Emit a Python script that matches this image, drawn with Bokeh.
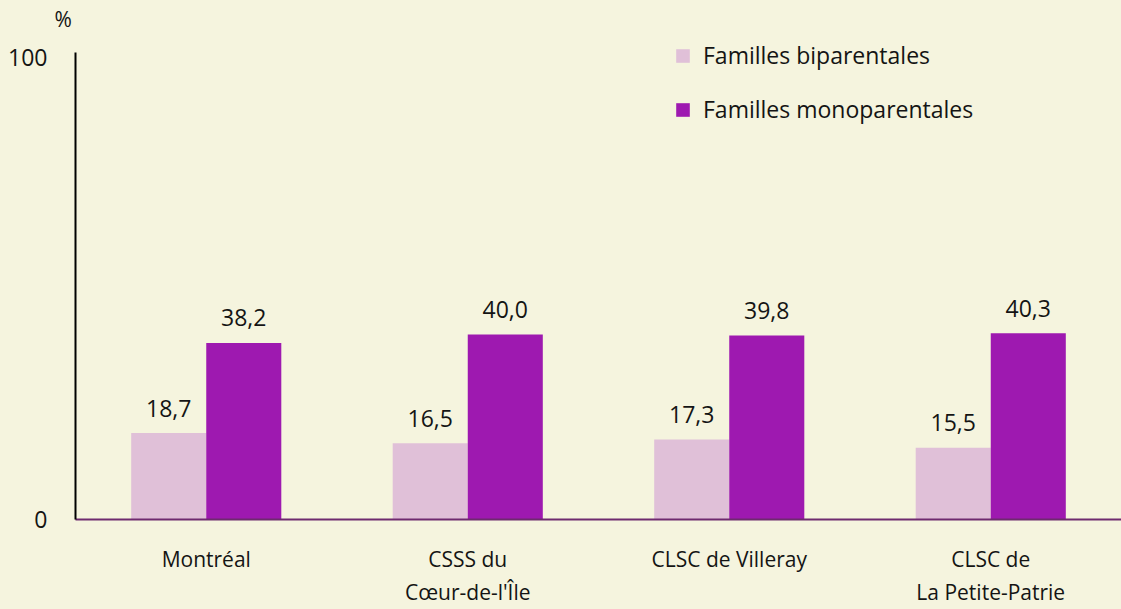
from bokeh.plotting import figure
from bokeh.models import (ColumnDataSource, FactorRange, Range1d, FixedTicker, Legend,
                          LegendItem)
from bokeh.transform import dodge
from bokeh.core.properties import value
from bokeh.embed import file_html
from bokeh.resources import INLINE

categories = ["Montréal", "CSSS du\nCœur-de-l'Île", "CLSC de Villeray", "CLSC de\nLa Petite-Patrie"]
biparentales = [18.7, 16.5, 17.3, 15.5]
monoparentales = [38.2, 40.0, 39.8, 40.3]
series_names = ["Familles biparentales", "Familles monoparentales"]
y_ticks = [0, 100]
unit_label = "%"

BG = "#F5F4DE"
C_LIGHT = "#E0C0D8"
C_DARK = "#9E19B0"
FONT = "Open Sans"
FS = "23px"
TXT = "#141414"

def fmt(v):
    return f"{v:.1f}".replace(".", ",")

src = ColumnDataSource(dict(
    cat=categories,
    bi=biparentales,
    mono=monoparentales,
    bi_lbl=[fmt(v) for v in biparentales],
    mono_lbl=[fmt(v) for v in monoparentales],
))

p = figure(width=1121, height=609, output_backend="svg", toolbar_location=None,
           x_range=FactorRange(factors=categories, range_padding=0),
           y_range=Range1d(0, 104.9),
           min_border_left=75, min_border_right=0, min_border_top=34, min_border_bottom=88,
           title=unit_label)
p.background_fill_color = BG
p.border_fill_color = BG
p.outline_line_color = None
p.grid.visible = False

p.title.align = "left"
p.title.offset = -21
p.title.text_font = FONT
p.title.text_font_size = "21px"
p.title.text_font_style = "normal"
p.title.text_color = TXT
p.title.standoff = 0
p.title.vertical_align = "top"

bw = 0.287
r1 = p.vbar(x=dodge("cat", -bw / 2, range=p.x_range), top="bi", width=bw, source=src,
            fill_color=C_LIGHT, line_color=None)
r2 = p.vbar(x=dodge("cat", bw / 2, range=p.x_range), top="mono", width=bw, source=src,
            fill_color=C_DARK, line_color=None)

p.text(x=dodge("cat", -bw / 2, range=p.x_range), y="bi", text="bi_lbl", source=src,
       text_align="center", text_baseline="alphabetic", y_offset=-25,
       text_font=value(FONT), text_font_size=FS, text_color=TXT)
p.text(x=dodge("cat", bw / 2, range=p.x_range), y="mono", text="mono_lbl", source=src,
       text_align="center", text_baseline="alphabetic", y_offset=-25,
       text_font=value(FONT), text_font_size=FS, text_color=TXT)

# y axis (line limited to 0..101)
p.yaxis.ticker = FixedTicker(ticks=y_ticks)
p.yaxis.bounds = (0, 101)
p.yaxis.major_tick_line_color = None
p.yaxis.minor_tick_line_color = None
p.yaxis.axis_line_color = "black"
p.yaxis.axis_line_width = 2
p.yaxis.major_label_standoff = 22
p.yaxis.major_label_text_font = FONT
p.yaxis.major_label_text_font_size = FS
p.yaxis.major_label_text_color = TXT

# x axis (multi-line category labels)
xa = p.xaxis[0]
xa.major_tick_line_color = None
xa.minor_tick_line_color = None
xa.axis_line_color = "#6E2A6E"
xa.axis_line_width = 2
xa.major_label_standoff = 19
xa.major_label_text_font = FONT
xa.major_label_text_font_size = "21px"
xa.major_label_text_color = TXT

legend = Legend(items=[LegendItem(label=series_names[0], renderers=[r1]),
                       LegendItem(label=series_names[1], renderers=[r2])],
                location=(599, 394), orientation="vertical",
                padding=0, margin=0, spacing=22, glyph_width=17, glyph_height=17,
                label_height=32, label_standoff=12,
                label_text_font=FONT, label_text_font_size=FS, label_text_color=TXT,
                border_line_alpha=0, background_fill_alpha=0)
p.add_layout(legend)

html = file_html(p, INLINE)
html = html.replace("<head>", "<head><style>html,body{background-color:%s;}</style>" % BG, 1)
open("out.html", "w").write(html)
